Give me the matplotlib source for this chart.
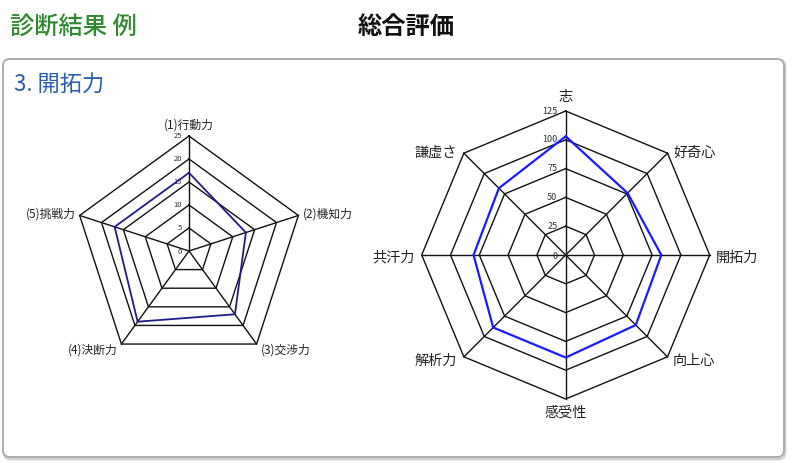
import numpy as np
import matplotlib
matplotlib.use("Agg")
import matplotlib.pyplot as plt
from matplotlib.patches import FancyBboxPatch

plt.rcParams['font.family'] = ['Noto Sans CJK JP', 'DejaVu Sans']

# 左：開拓力（5項目, 0-25）
left_labels = ["(1)行動力", "(2)機知力", "(3)交渉力", "(4)決断力", "(5)挑戦力"]
left_values = [17, 13, 17, 19, 17]
left_ticks = [0, 5, 10, 15, 20, 25]

# 右：総合評価（8項目, 0-125）
right_labels = ["志", "好奇心", "開拓力", "向上心", "感受性", "解析力", "共汗力", "謙虚さ"]
right_values = [103, 76, 83, 86, 89, 89, 80, 82]
right_ticks = [0, 25, 50, 75, 100, 125]

W, H = 793, 463


def radar(fig, cx, cy, R, labels, values, ticks, line_color, line_w,
          label_offsets, label_size, tick_size, tick_dx):
    """多角形グリッドのレーダーチャート (cx, cy, R はピクセル)"""
    ax = fig.add_axes([(cx - R) / W, (H - cy - R) / H, 2 * R / W, 2 * R / H],
                      projection='polar')
    ax.set_theta_zero_location('N')
    ax.set_theta_direction(-1)
    ax.set_ylim(0, ticks[-1])
    ax.set_xticks([])
    ax.set_yticks([])
    ax.grid(False)
    ax.spines['polar'].set_visible(False)
    ax.patch.set_alpha(0)

    n = len(labels)
    theta = np.linspace(0, 2 * np.pi, n, endpoint=False)
    theta_c = np.append(theta, theta[0])

    # グリッド
    for t in ticks[1:]:
        ax.plot(theta_c, [t] * (n + 1), color='#111111', lw=1.0, clip_on=False)
    for th in theta:
        ax.plot([th, th], [0, ticks[-1]], color='#111111', lw=1.0, clip_on=False)

    # データ
    vals = list(values) + [values[0]]
    ax.plot(theta_c, vals, color=line_color, lw=line_w, clip_on=False, zorder=5)

    # 目盛ラベル
    for t in ticks:
        ax.annotate(str(t), xy=(0, t), xytext=(tick_dx, -1 if t == 0 else 0),
                    textcoords='offset points', ha='right', va='center',
                    fontsize=tick_size, color='#333333')

    # 項目ラベル
    for th, lab, (dx, dy, ha) in zip(theta, labels, label_offsets):
        ax.annotate(lab, xy=(th, ticks[-1]), xytext=(dx, dy),
                    textcoords='offset points', ha=ha, va='center',
                    fontsize=label_size, color='#222222', annotation_clip=False)
    return ax


fig = plt.figure(figsize=(W / 100, H / 100), dpi=100)

bg = fig.add_axes([0, 0, 1, 1])
bg.set_xlim(0, W)
bg.set_ylim(H, 0)
bg.axis('off')

# パネル枠
shadow = FancyBboxPatch((4, 60), 781, 399, boxstyle="round,pad=0,rounding_size=7",
                        fc='none', ec='#d0d0d0', lw=2.0)
panel = FancyBboxPatch((3, 59), 781, 398, boxstyle="round,pad=0,rounding_size=7",
                       fc='white', ec='#a8a8a8', lw=1.3)
bg.add_patch(shadow)
bg.add_patch(panel)

bg.text(10, 27, "診断結果 例", fontsize=17.5, color='#2f8a2f', ha='left', va='center',
        fontweight='medium')
bg.text(406, 27, "総合評価", fontsize=17.5, color='#111111', ha='center', va='center',
        fontweight='bold')
bg.text(14, 84, "3. 開拓力", fontsize=16, color='#2a5cb0', ha='left', va='center')

left_offsets = [(0, 8, 'center'), (3, 1, 'left'), (3, -4, 'left'),
                (-3, -4, 'right'), (-3, 1, 'right')]
radar(fig, 189, 251, 115, left_labels, left_values, left_ticks,
      '#1c1c8a', 1.3, left_offsets, 8.5, 5.5, -5)

right_offsets = [(0, 10, 'center'), (4, 0, 'left'), (4, -2, 'left'),
                 (4, -3, 'left'), (0, -10, 'center'), (-5, -3, 'right'),
                 (-5, -2, 'right'), (-5, 0, 'right')]
radar(fig, 565.7, 255, 144, right_labels, right_values, right_ticks,
      '#1a1aff', 1.6, right_offsets, 10.2, 6.5, -6)

fig.savefig("out.png", dpi=100)
